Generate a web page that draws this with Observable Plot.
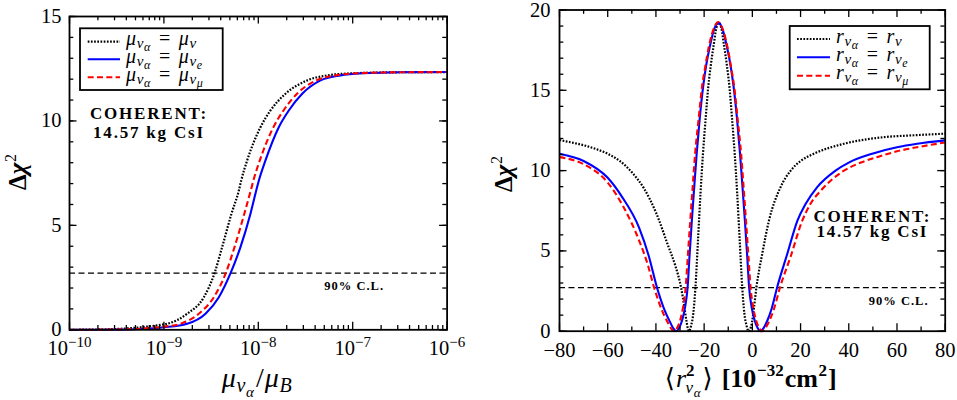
<!DOCTYPE html>
<html><head><meta charset="utf-8">
<script src="https://cdn.jsdelivr.net/npm/d3@7"></script>
<script src="https://cdn.jsdelivr.net/npm/@observablehq/plot@0.6"></script>
<style>
body{margin:0;background:#fff;}
#wrap{position:relative;width:957px;height:400px;overflow:hidden;}
#wrap svg{position:absolute;top:0;overflow:visible;}
</style></head><body><div id="wrap"></div>
<script>
// ---------- Left panel data: log10(mu/muB) exponent vs Δχ² ----------
const muExpBlack = [-10,-9.5,-9.25,-9.0,-8.965,-8.753,-8.577,-8.464,-8.383,-8.284,-8.206,-8.181,-8.118,-7.977,-7.871,-7.712,-7.482,-7.27,-7.0,-6.5,-6];
const chiMuBlack = [0,0.04,0.12,0.26,0.29,0.77,1.56,2.71,3.96,5.56,6.67,7.15,8.11,9.70,10.50,11.30,11.94,12.18,12.28,12.33,12.34];
const muExpBlue  = [-10,-9.5,-9.25,-9.0,-8.753,-8.559,-8.418,-8.294,-8.189,-8.083,-8.022,-7.994,-7.924,-7.783,-7.677,-7.535,-7.341,-7.13,-6.9,-6.5,-6];
const chiMuBlue  = [0,0.01,0.04,0.12,0.29,0.77,1.56,2.71,3.96,5.56,6.67,7.15,8.11,9.70,10.50,11.30,11.94,12.18,12.28,12.33,12.34];
const muExpRed   = [-10,-9.5,-9.25,-9.0,-8.824,-8.630,-8.471,-8.345,-8.252,-8.148,-8.08,-8.052,-7.984,-7.840,-7.733,-7.590,-7.385,-7.18,-6.95,-6.5,-6];
const chiMuRed   = [0,0.015,0.05,0.15,0.29,0.77,1.56,2.71,3.96,5.56,6.67,7.15,8.11,9.70,10.50,11.30,11.94,12.18,12.28,12.33,12.34];

// ---------- Right panel data: <r²> [1e-32 cm²] vs Δχ² ----------
const rBlack = [-80,-75,-70,-65,-60,-55,-50,-45,-40,-35,-32,-29.6,-28.3,-27.3,-26.7,-26.3,-25.4,-24.5,-23.6,-22.5,-21.5,-20.5,-19.4,-18.3,-17.2,-16.1,-14.9,-13.9,-12.9,-11.7,-10.6,-9.5,-8.4,-7.3,-6.3,-5.3,-4.2,-3.3,-2.4,-1.5,-0.9,-0.1,0.7,1.7,4.1,6.9,11.7,15.9,20,25.5,38,54.5,67,80];
const chiRBlack = [11.9,11.75,11.58,11.35,11.05,10.6,9.9,8.9,7.4,5.35,4.1,2.74,1.6,0.6,0.12,0,0.35,1.1,2.74,5.8,8.6,11.0,13.2,15.2,16.6,17.75,18.9,19.2,18.9,17.75,16.6,15.2,13.2,11.0,8.6,5.8,2.74,1.1,0.35,0,0.12,0.6,1.5,2.74,4.82,6.89,8.97,10.0,10.6,11.05,11.67,12.08,12.2,12.3];
const rBlue = [-80,-70,-60,-54,-47,-43,-39.6,-36.5,-34.3,-32.8,-31.6,-30.4,-29.1,-27.9,-26.85,-26.1,-25.1,-24.1,-23.1,-21.8,-20.45,-19.1,-17.7,-15.6,-14.1,-12.6,-10.5,-9.1,-7.75,-6.4,-5.1,-4.1,-3.1,-2.1,-1.35,-0.3,0.9,2.2,3.4,4.6,6.1,8.0,10.3,14.5,18.7,22,26.9,34.5,40,49.7,60,68.4,80];
const chiRBlue = [11.05,10.6,9.55,8.35,6.45,4.7,2.74,1.35,0.62,0.18,0,0.2,0.7,1.5,2.74,4.6,6.89,9.0,11.04,13.3,15.19,16.6,17.68,18.9,19.2,18.9,17.68,16.6,15.19,13.3,11.04,9.0,6.89,4.6,2.74,1.5,0.7,0.2,0,0.18,0.62,1.4,2.74,4.82,6.89,7.9,8.97,10.0,10.5,11.05,11.45,11.67,11.88];
const rRed = [-80,-70,-60,-53.5,-46.6,-43.5,-40.8,-37.5,-35.3,-33.7,-32.5,-31.3,-30.0,-28.8,-27.65,-26.8,-25.8,-24.8,-23.75,-22.3,-20.9,-19.5,-18.1,-15.7,-14.2,-12.7,-10.3,-8.9,-7.5,-6.1,-4.65,-3.6,-2.6,-1.6,-0.75,0.4,1.6,2.9,4.1,5.3,6.9,9.0,11.5,16,20.5,24,29,37,45,52,60,70,80];
const chiRRed = [10.84,10.4,9.25,7.75,5.5,4.2,2.74,1.3,0.6,0.17,0,0.18,0.65,1.45,2.74,4.6,6.8,8.9,11.04,13.2,15.19,16.5,17.68,18.95,19.25,18.95,17.68,16.5,15.19,13.2,11.04,8.9,6.8,4.6,2.74,1.45,0.65,0.18,0,0.17,0.6,1.4,2.74,4.7,6.8,7.9,8.85,9.9,10.5,10.85,11.2,11.5,11.75];

// ---------- Axes / ticks ----------
const cl90 = 2.71;
const muMajor = [1e-10, 1e-9, 1e-8, 1e-7, 1e-6];
const muMinor = muMajor.slice(0, -1).flatMap(d => [2,3,4,5,6,7,8,9].map(k => k * d));
const chiMajorL = [0, 5, 10, 15];
const chiMinorL = d3.range(0, 16, 1);
const rMajor = [-80, -60, -40, -20, 0, 20, 40, 60, 80];
const rMinor = d3.range(-70, 80, 20);
const chiMajorR = [0, 5, 10, 15, 20];
const chiMinorR = d3.range(0, 21, 1);

const SERIF = "'Liberation Serif', 'DejaVu Serif', serif";
const BLUE = "#0000ff", RED = "#ff0000";
const MAJ = 7.5, MIN = 4.3, TW = 1.3;
const DOT = "1.7,1.5", DASH = "6,3.3";
const TICKFONT = 20.5;

function tickMarks(xMaj, xMin, yMaj, yMin, pW, pH) {
  const s = {stroke: "black", strokeWidth: TW};
  const m = [];
  for (const [vals, L] of [[xMaj, MAJ], [xMin, MIN]]) {
    m.push(Plot.tickX(vals, {x: d => d, insetTop: pH - L, ...s}));
    m.push(Plot.tickX(vals, {x: d => d, insetBottom: pH - L, ...s}));
  }
  for (const [vals, L] of [[yMaj, MAJ], [yMin, MIN]]) {
    m.push(Plot.tickY(vals, {y: d => d, insetRight: pW - L, ...s}));
    m.push(Plot.tickY(vals, {y: d => d, insetLeft: pW - L, ...s}));
  }
  return m;
}

function mathText(svg, x, y, segs, base = {}) {
  const t = d3.select(svg).append("text").attr("x", x).attr("y", y)
    .attr("font-family", SERIF).attr("fill", "black").attr("text-anchor", "start");
  for (const [k, v] of Object.entries(base)) t.attr(k, v);
  let off = 0;
  for (const s of segs) {
    const ts = t.append("tspan").text(s.t);
    const o = s.off || 0;
    if (o !== off) { ts.attr("dy", o - off); off = o; }
    if (s.dx) ts.attr("dx", s.dx);
    if (s.size) ts.attr("font-size", s.size);
    if (s.style) ts.attr("font-style", s.style);
    if (s.weight) ts.attr("font-weight", s.weight);
  }
  return t;
}

function legend(svg, box, rows, sx1, sx2, tx) {
  const g = d3.select(svg);
  g.append("rect").attr("x", box[0]).attr("y", box[1]).attr("width", box[2]).attr("height", box[3])
    .attr("fill", "white").attr("stroke", "black").attr("stroke-width", 1.8);
  for (const r of rows) {
    g.append("line").attr("x1", sx1).attr("x2", sx2).attr("y1", r.y).attr("y2", r.y)
      .attr("stroke", r.color).attr("stroke-width", r.w).attr("stroke-dasharray", r.dash || null);
    mathText(svg, tx, r.y + 3.5, r.segs, {"font-size": 20});
  }
}

const lineStyles = {
  black: {stroke: "black", strokeWidth: 2.2, strokeDasharray: DOT, strokeLinecap: "butt"},
  blue: {stroke: BLUE, strokeWidth: 2.1, strokeLinecap: "butt"},
  red: {stroke: RED, strokeWidth: 2.1, strokeDasharray: DASH, strokeLinecap: "butt"}
};

const wrap = document.getElementById("wrap");

// ================= LEFT PANEL =================
const LL = {w: 478, h: 400, ml: 69, mr: 31.4, mt: 16, mb: 70.7};
const LpW = LL.w - LL.ml - LL.mr, LpH = LL.h - LL.mt - LL.mb;
const toMu = (ex, ch) => ex.map((e, i) => ({mu: Math.pow(10, e), chi: ch[i]}));

const svgL = Plot.plot({
  width: LL.w, height: LL.h, marginLeft: LL.ml, marginRight: LL.mr, marginTop: LL.mt, marginBottom: LL.mb,
  style: {fontFamily: SERIF, fontSize: TICKFONT + "px", background: "transparent", color: "black"},
  x: {type: "log", domain: [1e-10, 1e-6]},
  y: {domain: [0, 15]},
  marks: [
    Plot.axisX({ticks: muMajor, tickSize: 0, tickPadding: 11, label: null, fontSize: TICKFONT,
      tickFormat: d => "10^" + Math.round(Math.log10(d))}),
    Plot.axisY({ticks: chiMajorL, tickSize: 0, tickPadding: 8, label: null, fontSize: TICKFONT}),
    Plot.ruleY([cl90], {stroke: "black", strokeWidth: 1.2, strokeDasharray: "6,3.5"}),
    Plot.line(toMu(muExpBlack, chiMuBlack), {x: "mu", y: "chi", curve: "monotone-x", ...lineStyles.black}),
    Plot.line(toMu(muExpBlue, chiMuBlue), {x: "mu", y: "chi", curve: "monotone-x", ...lineStyles.blue}),
    Plot.line(toMu(muExpRed, chiMuRed), {x: "mu", y: "chi", curve: "monotone-x", ...lineStyles.red}),
    ...tickMarks(muMajor, muMinor, chiMajorL, chiMinorL, LpW, LpH),
    Plot.frame({stroke: "black", strokeWidth: 1.8})
  ]
});
svgL.style.left = "0px";
wrap.appendChild(svgL);

d3.select(svgL).selectAll('g[aria-label="x-axis tick label"] text').each(function () {
  const [b, e] = this.textContent.split("^");
  this.textContent = "";
  d3.select(this).append("tspan").text(b);
  d3.select(this).append("tspan").attr("font-size", 15).attr("dy", -8).text(e.replace("-", "\u2212"));
});

const sxL = svgL.scale("x"), syL = svgL.scale("y");
const subSeg = (sym, last) => [
  {t: sym, style: "italic"}, {t: "ν", style: "italic", size: 15, off: 3, dx: 0.8}, {t: "α", style: "italic", size: 12, off: 6, dx: 0.6},
  {t: "=", off: 0, dx: 8.5}, {t: sym, style: "italic", dx: 8.5}, {t: "ν", style: "italic", size: 15, off: 3, dx: 0.8},
  ...(last ? [{t: last, style: "italic", size: 12, off: 6, dx: 0.6}] : [])
];
legend(svgL, [80, 28.3, 142.7, 61.7], [
  {y: 41.7, color: "black", w: 2.2, dash: DOT, segs: subSeg("μ", null)},
  {y: 59.3, color: BLUE, w: 2.1, segs: subSeg("μ", "e")},
  {y: 77.3, color: RED, w: 2.1, dash: DASH, segs: subSeg("μ", "μ")}
], 87.7, 120, 126);

const boldTxt = {"font-size": 17, "font-weight": "bold", "text-anchor": "middle", "letter-spacing": 1.8};
mathText(svgL, sxL.apply(7.03e-10), syL.apply(10.07), [{t: "COHERENT:"}], boldTxt);
mathText(svgL, sxL.apply(7.03e-10), syL.apply(9.14), [{t: "14.57 kg CsI"}], boldTxt);
const clTxt = {"font-size": 12.5, "font-weight": "bold", "text-anchor": "middle", "letter-spacing": 1};
mathText(svgL, sxL.apply(1.05e-7), syL.apply(1.88), [{t: "90% C.L."}], clTxt);

// axis labels
mathText(svgL, 0, 0, [{t: "Δ", weight: "bold"}, {t: "χ", weight: "bold", style: "italic"}, {t: "2", size: 16, off: -10, dx: 0.8}],
  {"font-size": 25, "text-anchor": "middle", transform: "translate(26,172) rotate(-90)"});
mathText(svgL, 256.7, 387, [
  {t: "μ", style: "italic"}, {t: "ν", style: "italic", size: 20, off: 5, dx: 0.8}, {t: "α", style: "italic", size: 15, off: 10, dx: 0.6},
  {t: "/", off: 0, dx: 2}, {t: "μ", style: "italic", dx: 1}, {t: "B", style: "italic", size: 20, off: 5, dx: 0.8}
], {"font-size": 28, "text-anchor": "middle"});

// ================= RIGHT PANEL =================
const RR = {w: 479, h: 400, ml: 81, mr: 12.3, mt: 9.5, mb: 69.3};
const RpW = RR.w - RR.ml - RR.mr, RpH = RR.h - RR.mt - RR.mb;
const toR = (rs, ch) => rs.map((r, i) => ({r, chi: ch[i]}));

const svgR = Plot.plot({
  width: RR.w, height: RR.h, marginLeft: RR.ml, marginRight: RR.mr, marginTop: RR.mt, marginBottom: RR.mb,
  style: {fontFamily: SERIF, fontSize: TICKFONT + "px", background: "transparent", color: "black"},
  x: {domain: [-80, 80]},
  y: {domain: [0, 20]},
  marks: [
    Plot.axisX({ticks: rMajor, tickSize: 0, tickPadding: 11, label: null, fontSize: TICKFONT,
      tickFormat: d => d < 0 ? "\u2212" + (-d) : String(d)}),
    Plot.axisY({ticks: chiMajorR, tickSize: 0, tickPadding: 9, label: null, fontSize: TICKFONT}),
    Plot.ruleY([cl90], {stroke: "black", strokeWidth: 1.2, strokeDasharray: "6,3.5"}),
    Plot.line(toR(rBlack, chiRBlack), {x: "r", y: "chi", curve: "monotone-x", ...lineStyles.black}),
    Plot.line(toR(rBlue, chiRBlue), {x: "r", y: "chi", curve: "monotone-x", ...lineStyles.blue}),
    Plot.line(toR(rRed, chiRRed), {x: "r", y: "chi", curve: "monotone-x", ...lineStyles.red}),
    ...tickMarks(rMajor, rMinor, chiMajorR, chiMinorR, RpW, RpH),
    Plot.frame({stroke: "black", strokeWidth: 1.8})
  ]
});
svgR.style.left = "478px";
wrap.appendChild(svgR);

const sxR = svgR.scale("x"), syR = svgR.scale("y");
legend(svgR, [311.7, 26, 140, 63.3], [
  {y: 39, color: "black", w: 2.2, dash: DOT, segs: subSeg("r", null)},
  {y: 57.3, color: BLUE, w: 2.1, segs: subSeg("r", "e")},
  {y: 75.7, color: RED, w: 2.1, dash: DASH, segs: subSeg("r", "μ")}
], 319, 352, 358);

mathText(svgR, sxR.apply(50), syR.apply(6.77), [{t: "COHERENT:"}], boldTxt);
mathText(svgR, sxR.apply(50), syR.apply(5.81), [{t: "14.57 kg CsI"}], boldTxt);
mathText(svgR, sxR.apply(60.9), syR.apply(1.6), [{t: "90% C.L."}], clTxt);

mathText(svgR, 0, 0, [{t: "Δ", weight: "bold"}, {t: "χ", weight: "bold", style: "italic"}, {t: "2", size: 16, off: -10, dx: 0.8}],
  {"font-size": 25, "text-anchor": "middle", transform: "translate(34,174) rotate(-90)"});
mathText(svgR, 272.7, 387, [
  {t: "⟨"}, {t: "r", style: "italic", dx: 1}, {t: "2", size: 17, off: -11, weight: "bold"},
  {t: "ν", style: "italic", size: 17, off: 6, dx: -9}, {t: "α", style: "italic", size: 13, off: 10, dx: 0.6},
  {t: "⟩", off: 0, dx: 2}, {t: "[", dx: 9, weight: "bold"}, {t: "10", weight: "bold"},
  {t: "−32", size: 17, off: -11, weight: "bold", dx: 0.6}, {t: "cm", off: 0, weight: "bold", dx: 1},
  {t: "2", size: 17, off: -11, weight: "bold", dx: 0.6}, {t: "]", off: 0, weight: "bold", dx: 1}
], {"font-size": 26, "text-anchor": "middle"});
</script></body></html>
